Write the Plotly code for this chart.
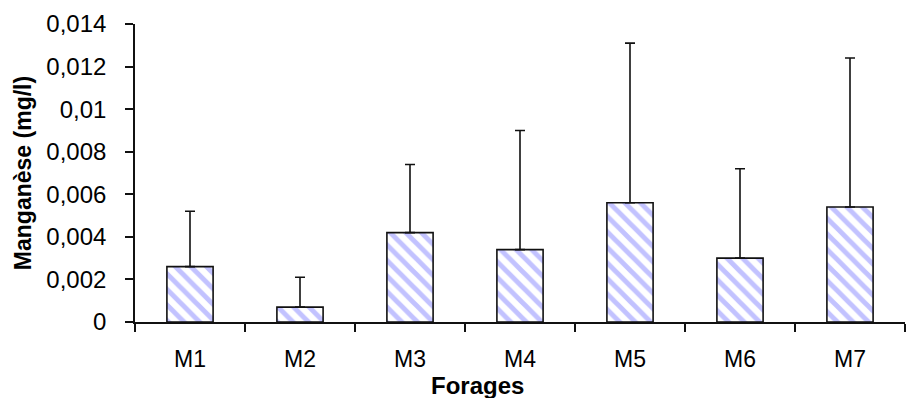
import plotly.graph_objects as go

# Manganese concentration per borehole (mg/l): mean and upper deviation
forages = ["M1", "M2", "M3", "M4", "M5", "M6", "M7"]
manganese = [0.0026, 0.0007, 0.0042, 0.0034, 0.0056, 0.0030, 0.0054]
ecart_type = [0.0026, 0.0014, 0.0032, 0.0056, 0.0075, 0.0042, 0.0070]

y_ticks = [0, 0.002, 0.004, 0.006, 0.008, 0.010, 0.012, 0.014]
y_tick_labels = ["0", "0,002", "0,004", "0,006", "0,008", "0,01", "0,012", "0,014"]

FONT = "Liberation Sans, Arial, sans-serif"

fig = go.Figure(
    go.Bar(
        x=forages,
        y=manganese,
        width=0.42,
        marker=dict(
            color="white",
            line=dict(color="#111111", width=1.6),
            pattern=dict(shape="\\", fgcolor="#8585ff", bgcolor="white",
                         size=11, solidity=0.45, fillmode="overlay"),
        ),
        error_y=dict(
            type="data",
            symmetric=False,
            array=ecart_type,
            arrayminus=[0] * len(ecart_type),
            color="#111111",
            thickness=1.6,
            width=5,
        ),
    )
)

fig.update_layout(
    width=906,
    height=398,
    margin=dict(l=135, r=1, t=24, b=76),
    paper_bgcolor="white",
    plot_bgcolor="white",
    showlegend=False,
    font=dict(family=FONT, color="black", size=23),
    xaxis=dict(
        showline=True,
        linecolor="#111111",
        linewidth=1.6,
        ticks="outside",
        tickson="boundaries",
        ticklen=8,
        tickwidth=1.6,
        tickcolor="#111111",
        showgrid=False,
        tickfont=dict(size=23),
        ticklabelstandoff=16,
    ),
    yaxis=dict(
        range=[0, 0.014],
        tickvals=y_ticks,
        ticktext=y_tick_labels,
        showline=True,
        linecolor="#111111",
        linewidth=1.6,
        ticks="outside",
        ticklen=8,
        tickwidth=1.6,
        tickcolor="#111111",
        showgrid=False,
        zeroline=False,
        tickfont=dict(size=24),
        ticklabelstandoff=14,
        title=dict(text="<b>Manganèse (mg/l)</b>", font=dict(size=23), standoff=8),
    ),
    annotations=[
        dict(
            text="<b>Forages</b>",
            xref="paper", yref="paper",
            x=0.445, y=0,
            xanchor="center", yanchor="bottom",
            yshift=-78,
            showarrow=False,
            borderpad=0,
            font=dict(size=24),
        )
    ],
)

fig.write_html("out.html")
